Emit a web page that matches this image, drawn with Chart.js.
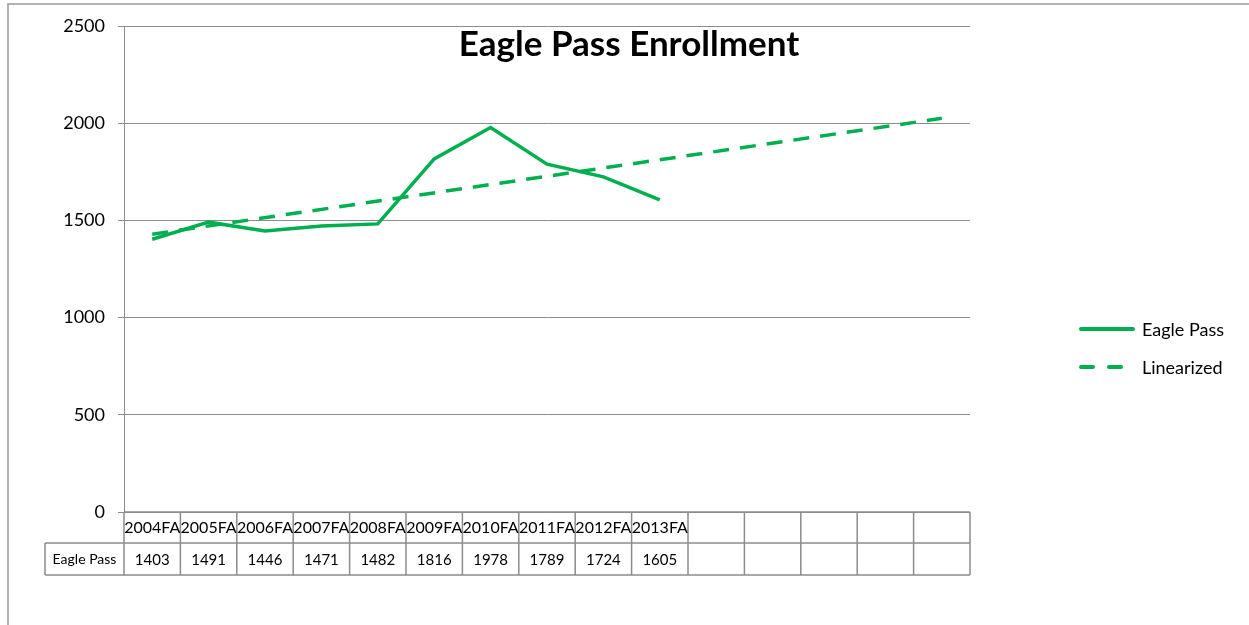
<!DOCTYPE html>
<html>
<head>
<meta charset="utf-8">
<title>Eagle Pass Enrollment</title>
<script src="https://cdn.jsdelivr.net/npm/chart.js@4"></script>
<style>
  html, body { margin: 0; padding: 0; background: #fff; }
  #wrap { width: 1249px; height: 625px; position: relative; }
</style>
</head>
<body>
<div id="wrap"><canvas id="enrollChart" width="1249" height="625"></canvas></div>
<script>
const categories = ['2004FA', '2005FA', '2006FA', '2007FA', '2008FA', '2009FA', '2010FA',
  '2011FA', '2012FA', '2013FA', '', '', '', '', ''];
const eaglePass = [1403, 1491, 1446, 1471, 1482, 1816, 1978, 1789, 1724, 1605,
  null, null, null, null, null];
// trend line: start and end of the dashed line
const linearized = [1429, null, null, null, null, null, null, null, null, null,
  null, null, null, null, 2025];

const green = '#00B050';
const gray = '#8c8c8c';
const font = 'Lato, "Open Sans", sans-serif';

// draws the data table, legend, title and frame the way Excel lays them out
const excelExtras = {
  id: 'excelExtras',
  afterDraw(chart) {
    const ctx = chart.ctx;
    const x = chart.scales.x;
    const area = chart.chartArea;
    const colW = x.getPixelForValue(1) - x.getPixelForValue(0);
    const left = area.left;
    const right = area.right;
    const row1Top = area.bottom;
    const row2Top = row1Top + 31;
    const row2Bottom = row2Top + 32;
    const headLeft = 45;

    ctx.save();
    ctx.strokeStyle = gray;
    ctx.lineWidth = 1.5;
    // horizontal rules
    ctx.beginPath();
    ctx.moveTo(left, row1Top); ctx.lineTo(right, row1Top);
    ctx.moveTo(headLeft, row2Top); ctx.lineTo(right, row2Top);
    ctx.moveTo(headLeft, row2Bottom); ctx.lineTo(right, row2Bottom);
    // vertical rules
    ctx.moveTo(headLeft, row2Top); ctx.lineTo(headLeft, row2Bottom);
    for (let i = 0; i <= categories.length; i++) {
      const cx = x.getPixelForValue(i) - colW / 2;
      ctx.moveTo(cx, row1Top); ctx.lineTo(cx, row2Bottom);
    }
    ctx.stroke();

    ctx.fillStyle = '#000';
    ctx.textAlign = 'center';
    ctx.textBaseline = 'middle';
    ctx.font = '16px ' + font;
    categories.forEach((c, i) => {
      ctx.fillText(c, x.getPixelForValue(i), row1Top + 16);
    });
    ctx.font = '15px ' + font;
    eaglePass.forEach((v, i) => {
      if (v !== null) ctx.fillText(String(v), x.getPixelForValue(i), row2Top + 17);
    });
    ctx.font = '14px ' + font;
    ctx.fillText(chart.data.datasets[0].label, (headLeft + left) / 2, row2Top + 16);

    // legend
    ctx.lineWidth = 4;
    ctx.strokeStyle = green;
    ctx.lineCap = 'round';
    ctx.beginPath();
    ctx.moveTo(1081, 329); ctx.lineTo(1133, 329);
    ctx.stroke();
    ctx.setLineDash([12, 16]);
    ctx.beginPath();
    ctx.moveTo(1081, 367); ctx.lineTo(1133, 367);
    ctx.stroke();
    ctx.setLineDash([]);
    ctx.textAlign = 'left';
    ctx.font = '18px ' + font;
    ctx.fillText('Eagle Pass', 1142, 330);
    ctx.fillText('Linearized', 1142, 368);

    // title
    ctx.textAlign = 'center';
    ctx.font = 'bold 35px ' + font;
    ctx.fillText('Eagle Pass Enrollment', 629, 45);

    // outer frame
    ctx.lineWidth = 1.5;
    ctx.strokeStyle = '#999';
    ctx.lineCap = 'butt';
    ctx.strokeRect(8, 4, 1400, 800);
    ctx.restore();
  }
};

new Chart(document.getElementById('enrollChart'), {
  type: 'line',
  data: {
    labels: categories,
    datasets: [
      {
        label: 'Eagle Pass',
        data: eaglePass,
        borderColor: green,
        borderWidth: 3.5,
        pointRadius: 0,
        tension: 0,
        spanGaps: false
      },
      {
        label: 'Linearized',
        data: linearized,
        borderColor: green,
        borderWidth: 3.5,
        borderDash: [16, 11],
        pointRadius: 0,
        tension: 0,
        spanGaps: true
      }
    ]
  },
  options: {
    responsive: false,
    animation: false,
    layout: { padding: { left: 8, top: 26, right: 279, bottom: 113 } },
    plugins: {
      legend: { display: false },
      tooltip: { enabled: false },
      title: { display: false }
    },
    scales: {
      x: {
        display: false,
        offset: true
      },
      y: {
        min: 0,
        max: 2500,
        ticks: {
          stepSize: 500,
          color: '#000',
          font: { family: font, size: 18 },
          padding: 13,
          callback: v => String(v)
        },
        grid: {
          color: gray,
          lineWidth: 1,
          drawTicks: true,
          tickLength: 6,
          tickColor: gray
        },
        border: { display: true, color: gray, width: 1 },
        afterFit(scale) { scale.width = 116; }
      }
    }
  },
  plugins: [excelExtras]
});
</script>
</body>
</html>
